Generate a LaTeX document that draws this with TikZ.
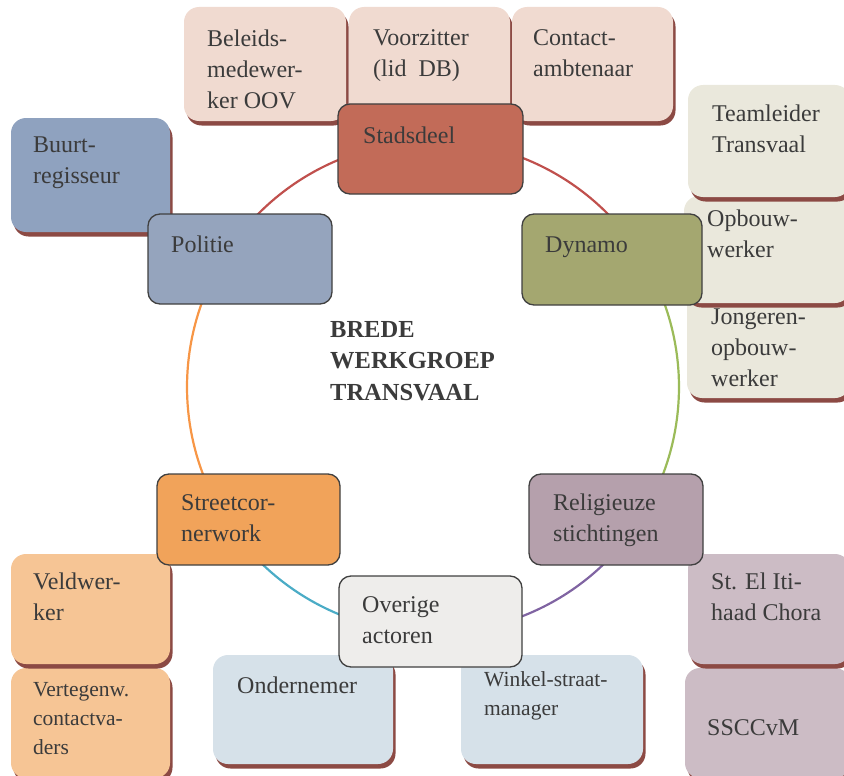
\documentclass[tikz,border=0pt]{standalone}
\usepackage{fontspec}
\setmainfont{Liberation Serif}
\usetikzlibrary{shadows}

% palette
\definecolor{ink}{HTML}{3B3B3B}
\definecolor{edge}{HTML}{404040}
\definecolor{shade}{HTML}{8C4A44}
\definecolor{cStad}{HTML}{C26B58}
\definecolor{cPol}{HTML}{95A4BD}
\definecolor{cDyn}{HTML}{A4A770}
\definecolor{cRel}{HTML}{B5A0AC}
\definecolor{cStr}{HTML}{F1A35A}
\definecolor{cOve}{HTML}{EEEDEB}
\definecolor{sStad}{HTML}{F0DAD0}
\definecolor{sDyn}{HTML}{EAE8DC}
\definecolor{sPol}{HTML}{8FA2BF}
\definecolor{sStr}{HTML}{F6C595}
\definecolor{sOve}{HTML}{D6E1E9}
\definecolor{sRel}{HTML}{CCBCC5}
\definecolor{aRed}{HTML}{C0504D}
\definecolor{aGreen}{HTML}{9BBB59}
\definecolor{aPurple}{HTML}{8064A2}
\definecolor{aCyan}{HTML}{4BACC6}
\definecolor{aOrange}{HTML}{F79646}

\tikzset{
  subbox/.style={rectangle, rounded corners=15pt, inner sep=0pt, draw=none,
    drop shadow={shadow xshift=2.5pt, shadow yshift=-4.5pt, fill=shade, opacity=1}},
  mainbox/.style={rectangle, rounded corners=12pt, inner sep=0pt, draw=edge, line width=1.3pt},
  txt/.style={anchor=north west, inner sep=0pt, text=ink, align=left,
    font=\fontsize{24}{31}\selectfont, execute at begin node=\rule{0pt}{20pt}},
  smalltxt/.style={txt, font=\fontsize{21.5}{29}\selectfont},
  ring/.style={line width=2.2pt},
}

\begin{document}
\begin{tikzpicture}[x=1pt, y=-1pt]
\useasboundingbox (0,0) rectangle (844,776);
\clip (0,0) rectangle (844,776);

% ---- outer actors (light boxes with a shadow) ----
\node[subbox, fill=sStad, minimum width=162pt, minimum height=114pt] (bel) at (265,64) {};
\node[subbox, fill=sStad, minimum width=161pt, minimum height=114pt] (voo) at (429.5,64) {};
\node[subbox, fill=sStad, minimum width=161pt, minimum height=114pt] (con) at (592.5,64) {};

\node[subbox, fill=sDyn, minimum width=163pt, minimum height=108pt] (jon) at (768.5,344) {};
\node[subbox, fill=sDyn, minimum width=166pt, minimum height=107pt] (opb) at (767,249.5) {};
\node[subbox, fill=sDyn, minimum width=162pt, minimum height=112pt] (tml) at (769,141) {};

\node[subbox, fill=sPol, minimum width=159pt, minimum height=114pt] (buu) at (90.5,175) {};

\node[subbox, fill=sStr, minimum width=159pt, minimum height=110pt] (vtg) at (90.5,723) {};
\node[subbox, fill=sStr, minimum width=159pt, minimum height=110pt] (vel) at (90.5,609) {};

\node[subbox, fill=sOve, minimum width=180pt, minimum height=109pt] (ond) at (303,709.5) {};
\node[subbox, fill=sOve, minimum width=182pt, minimum height=109pt] (win) at (552,709.5) {};

\node[subbox, fill=sRel, minimum width=165pt, minimum height=110pt] (ssc) at (767.5,723) {};
\node[subbox, fill=sRel, minimum width=162pt, minimum height=110pt] (sti) at (769,609) {};

% ---- the cycle ----
\coordinate (hub) at (433,387);
\draw[ring, aRed]    ([shift={(-146.2:246)}]hub) arc[start angle=-146.2, end angle=-90.7, radius=246];
\draw[ring, aRed]    ([shift={(-90.7:246)}]hub)  arc[start angle=-90.7,  end angle=-35.7, radius=246];
\draw[ring, aGreen]  ([shift={(-35.7:246)}]hub)  arc[start angle=-35.7,  end angle=35.8,  radius=246];
\draw[ring, aPurple] ([shift={(35.8:246)}]hub)   arc[start angle=35.8,   end angle=90.7,  radius=246];
\draw[ring, aCyan]   ([shift={(90.7:246)}]hub)   arc[start angle=90.7,   end angle=144.5, radius=246];
\draw[ring, aOrange] ([shift={(144.5:246)}]hub)  arc[start angle=144.5,  end angle=213.8, radius=246];

% ---- core actors ----
\node[mainbox, fill=cStad, minimum width=185pt, minimum height=90pt] (stad) at (430.5,149) {};
\node[mainbox, fill=cPol,  minimum width=184pt, minimum height=90pt] (pol)  at (240,259) {};
\node[mainbox, fill=cDyn,  minimum width=180pt, minimum height=91pt] (dyn)  at (612,259.5) {};
\node[mainbox, fill=cRel,  minimum width=174pt, minimum height=91pt] (rel)  at (616,519.5) {};
\node[mainbox, fill=cStr,  minimum width=183pt, minimum height=91pt] (str)  at (248.5,519.5) {};
\node[mainbox, fill=cOve,  minimum width=183pt, minimum height=91pt] (ove)  at (430.5,621.5) {};

% ---- labels (north edge sits 20pt above the first baseline) ----
\node[txt] (bel-t) at (207,29.5) {Beleids-\\medewer-\\ker OOV};
\node[txt] (voo-t) at (373,29.5) {Voorzitter\\(lid\ \ DB)};
\node[txt] (con-t) at (533,29.5) {Contact-\\ambtenaar};
\node[txt] (stad-t) at (363,123.5) {Stadsdeel};

\node[txt] (tml-t) at (712,105) {Teamleider\\Transvaal};
\node[txt] (opb-t) at (707,210) {Opbouw-\\werker};
\node[txt] (jon-t) at (711,309) {Jongeren-\\opbouw-\\werker};

\node[txt] (buu-t) at (33,137) {Buurt-\\regisseur};
\node[txt] (pol-t) at (171,232) {Politie};
\node[txt] (dyn-t) at (545,232) {Dynamo};

\node[txt] (rel-t) at (553,494) {Religieuze\\stichtingen};
\node[txt] (str-t) at (181,494) {Streetcor-\\nerwork};
\node[txt] (ove-t) at (362,596) {Overige\\actoren};

\node[txt] (vel-t) at (33,573) {Veldwer-\\ker};
\node[smalltxt] (vtg-t) at (33,682) {Vertegenw.\\contactva-\\ders};
\node[txt] (ond-t) at (237,673) {Ondernemer};
\node[smalltxt] (win-t) at (484,671) {Winkel-straat-\\manager};
\node[txt] (sti-t) at (711,573) {St. El Iti-\\haad Chora};
\node[txt] (ssc-t) at (707,715) {SSCCvM};

\node[txt, font=\bfseries\fontsize{24.5}{31.5}\selectfont] (title) at (330,321)
  {BREDE\\WERKGROEP\\TRANSVAAL};
\end{tikzpicture}
\end{document}
